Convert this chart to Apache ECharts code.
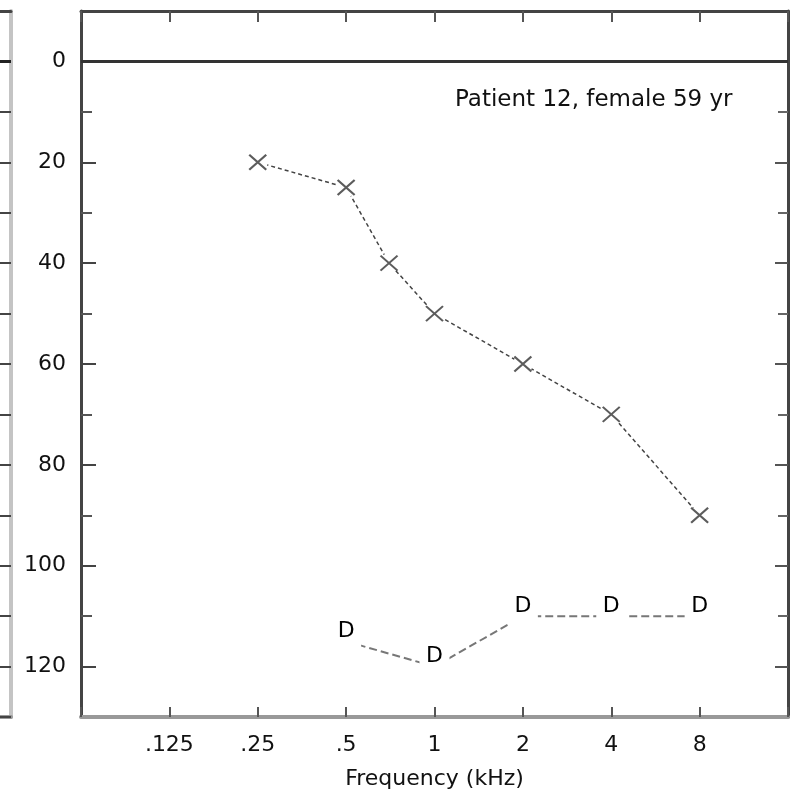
<!DOCTYPE html>
<html>
<head>
<meta charset="utf-8">
<script src="https://cdn.jsdelivr.net/npm/echarts@6/dist/echarts.min.js"></script>
<style>
html,body{margin:0;padding:0;background:#fff;}
#chart{width:791px;height:799px;}
</style>
</head>
<body>
<div id="chart"></div>
<script>
// Air conduction thresholds (X)
const xFreq = [0.25, 0.5, 0.7, 1, 2, 4, 8];
const xLevels = [20, 25, 40, 50, 60, 70, 90];
// Discomfort / other thresholds (D)
const dFreq = [0.5, 1, 2, 4, 8];
const dLevels = [115, 120, 110, 110, 110];
// Axis ticks
const freqTicks = [0.125, 0.25, 0.5, 1, 2, 4, 8];
const freqTickLabels = ['.125', '.25', '.5', '1', '2', '4', '8'];
const dbMajor = [0, 20, 40, 60, 80, 100, 120];
const dbMinor = [10, 30, 50, 70, 90, 110];
const dbAll = [-10, 0, 10, 20, 30, 40, 50, 60, 70, 80, 90, 100, 110, 120, 130];
const annotation = 'Patient 12, female 59 yr';

const FONT = 'DejaVu Sans';
const zip = (a, b) => a.map((v, i) => [v, b[i]]);

function freqFormatter(v) {
  for (let i = 0; i < freqTicks.length; i++) {
    if (Math.abs(v - freqTicks[i]) < 1e-6) return freqTickLabels[i];
  }
  return '';
}

const yBase = { type: 'value', min: -10, max: 130, inverse: true, splitLine: { show: false } };
const xLogBase = { type: 'log', logBase: 2, min: 1 / 16, max: 16, splitNumber: 8, splitLine: { show: false } };

const chart = echarts.init(document.getElementById('chart'), null, { renderer: 'canvas' });
chart.setOption({
  animation: false,
  backgroundColor: '#fff',
  title: {
    text: annotation, left: 455, top: 89, padding: 0,
    textStyle: { fontFamily: FONT, fontSize: 23, fontWeight: 'normal', color: '#111' }
  },
  grid: [
    { left: 81, right: 3, top: 11, bottom: 82, outerBoundsMode: 'none' },
    { left: 0, right: 780, top: 11, bottom: 82, outerBoundsMode: 'none' }
  ],
  xAxis: [
    Object.assign({}, xLogBase, {
      gridIndex: 0, position: 'bottom',
      axisLine: { onZero: false, lineStyle: { color: '#999', width: 4 } },
      axisTick: { inside: true, length: 10, lineStyle: { color: '#555', width: 2 } },
      axisLabel: { formatter: freqFormatter, fontFamily: FONT, fontSize: 22, color: '#111', margin: 17 },
      name: 'Frequency (kHz)', nameLocation: 'middle', nameGap: 51,
      nameTextStyle: { fontFamily: FONT, fontSize: 22, color: '#111' }
    }),
    Object.assign({}, xLogBase, {
      gridIndex: 0, position: 'top',
      axisLine: { onZero: false, lineStyle: { color: '#444', width: 3 } },
      axisTick: { inside: true, length: 11, lineStyle: { color: '#555', width: 2 } },
      axisLabel: { show: false }
    }),
    { type: 'value', gridIndex: 1, position: 'bottom', min: 0, max: 1,
      axisLine: { onZero: false, lineStyle: { color: '#999', width: 4 } }, axisTick: { show: false },
      axisLabel: { show: false }, splitLine: { show: false } },
    { type: 'value', gridIndex: 1, position: 'top', min: 0, max: 1,
      axisLine: { onZero: false, lineStyle: { color: '#444', width: 3 } }, axisTick: { show: false },
      axisLabel: { show: false }, splitLine: { show: false } }
  ],
  yAxis: [
    Object.assign({}, yBase, {
      gridIndex: 0, position: 'left',
      axisLine: { show: true, onZero: false, lineStyle: { color: '#444', width: 3 } },
      axisTick: { inside: true, length: 15, customValues: dbMajor, lineStyle: { color: '#444', width: 2 } },
      axisLabel: { customValues: dbMajor, fontFamily: FONT, fontSize: 22, color: '#111', margin: 15 }
    }),
    Object.assign({}, yBase, {
      gridIndex: 0, position: 'left',
      axisLine: { show: false, onZero: false },
      axisTick: { inside: true, length: 11, customValues: dbMinor, lineStyle: { color: '#555', width: 2 } },
      axisLabel: { show: false }
    }),
    Object.assign({}, yBase, {
      gridIndex: 0, position: 'right',
      axisLine: { show: true, onZero: false, lineStyle: { color: '#444', width: 3 } },
      axisTick: { inside: true, length: 13, customValues: dbMajor, lineStyle: { color: '#555', width: 2 } },
      axisLabel: { show: false }
    }),
    Object.assign({}, yBase, {
      gridIndex: 0, position: 'right',
      axisLine: { show: false, onZero: false },
      axisTick: { inside: true, length: 10, customValues: dbMinor, lineStyle: { color: '#666', width: 2 } },
      axisLabel: { show: false }
    }),
    Object.assign({}, yBase, {
      gridIndex: 1, position: 'right',
      axisLine: { show: true, onZero: false, lineStyle: { color: '#c4c4c4', width: 4 } },
      axisTick: { inside: true, length: 12, customValues: dbAll, lineStyle: { color: '#444', width: 2 } },
      axisLabel: { show: false }
    })
  ],
  series: [
    {
      name: 'X line', type: 'line', xAxisIndex: 0, yAxisIndex: 0,
      data: zip(xFreq, xLevels),
      symbol: 'circle', symbolSize: 20,
      itemStyle: { color: '#fff', borderWidth: 0 },
      lineStyle: { color: '#444', width: 1.5, type: [4, 3] },
      z: 2,
      markLine: {
        silent: true, symbol: 'none', label: { show: false },
        lineStyle: { color: '#333', width: 3, type: 'solid' },
        data: [{ yAxis: 0 }]
      }
    },
    {
      name: 'X', type: 'scatter', xAxisIndex: 0, yAxisIndex: 0,
      data: zip(xFreq, xLevels),
      symbol: 'path://M0,0L10,10M10,0L0,10', symbolSize: [17, 15],
      itemStyle: { color: 'rgba(0,0,0,0)', borderColor: '#333', borderWidth: 2 },
      z: 4
    },
    {
      name: 'D', type: 'line', xAxisIndex: 0, yAxisIndex: 0,
      data: zip(dFreq, dLevels),
      symbol: 'rect', symbolSize: [30, 24],
      itemStyle: { color: '#fff', borderWidth: 0 },
      lineStyle: { color: '#777', width: 2, type: [8, 4] },
      label: { show: true, position: 'inside', offset: [0, -10], formatter: 'D',
               fontFamily: FONT, fontSize: 22, color: '#000' },
      z: 3
    },
    {
      name: 'left panel', type: 'line', xAxisIndex: 2, yAxisIndex: 4,
      data: [],
      markLine: {
        silent: true, symbol: 'none', label: { show: false },
        lineStyle: { color: '#222', width: 3, type: 'solid' },
        data: [{ yAxis: 0 }]
      }
    }
  ]
});
</script>
</body>
</html>
